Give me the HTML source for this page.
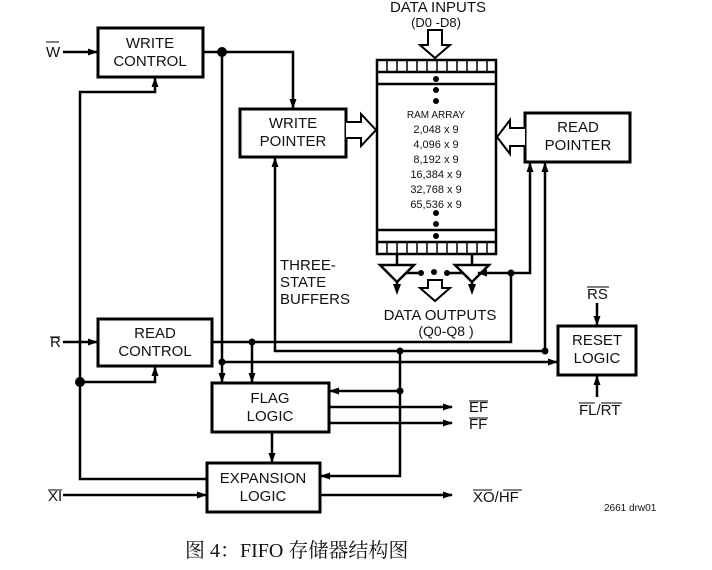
<!DOCTYPE html>
<html><head><meta charset="utf-8"><style>
body{margin:0;background:#fff;}
svg{display:block;}
text{font-family:"Liberation Sans",sans-serif;font-size:15px;fill:#111;}
</style></head><body>
<svg width="712" height="570" viewBox="0 0 712 570" xmlns="http://www.w3.org/2000/svg">
<defs>
<marker id="a" markerWidth="10" markerHeight="8" refX="9" refY="4" orient="auto" markerUnits="userSpaceOnUse"><path d="M0,0.5 L10,4 L0,7.5 Z" fill="#000"/></marker>
</defs>
<g fill="none" stroke="#000" stroke-width="3">
<rect x="98" y="28" width="105" height="49"/>
<rect x="240" y="109" width="106" height="48"/>
<rect x="525" y="113" width="105" height="49"/>
<rect x="98" y="319" width="114" height="47"/>
<rect x="212" y="383" width="117" height="49"/>
<rect x="207" y="463" width="113" height="49"/>
<rect x="558" y="326" width="78" height="49"/>
</g>
<g fill="none" stroke="#000" stroke-width="2.5">
<rect x="377" y="60" width="119" height="194"/>
<line x1="377" y1="72" x2="496" y2="72"/>
<line x1="377" y1="84" x2="496" y2="84"/>
<line x1="377" y1="230" x2="496" y2="230"/>
<line x1="377" y1="242" x2="496" y2="242"/>
</g>
<g stroke="#000" stroke-width="1.5">
<path d="M387 60v12M397 60v12M407 60v12M417 60v12M427 60v12M437 60v12M447 60v12M457 60v12M467 60v12M477 60v12M487 60v12"/>
<path d="M387 242v12M397 242v12M407 242v12M417 242v12M427 242v12M437 242v12M447 242v12M457 242v12M467 242v12M477 242v12M487 242v12"/>
</g>
<g fill="#000">
<circle cx="436" cy="79" r="3"/><circle cx="436" cy="90" r="3"/><circle cx="436" cy="101" r="3"/>
<circle cx="436" cy="213" r="3"/><circle cx="436" cy="224" r="3"/><circle cx="436" cy="236" r="3"/>
</g>
<g fill="#fff" stroke="#000" stroke-width="2">
<path d="M428 30 H442 V45 H450 L435 58 L420 45 H428 Z"/>
<path d="M346 122 H361 V114 L376 130 L361 146 V138 H346"/>
<path d="M525 128 H510 V120 L497 137 L510 154 V146 H525"/>
<path d="M428 280 H442 V288 H450 L435 301 L420 288 H428 Z"/>
</g>
<g fill="none" stroke="#000" stroke-width="2.5">
<line x1="397" y1="254" x2="397" y2="265"/>
<line x1="472" y1="254" x2="472" y2="265"/>
<path d="M380 265 H414 L397 282 Z"/>
<path d="M455 265 H489 L472 282 Z"/>
<line x1="397" y1="282" x2="397" y2="290"/>
<line x1="472" y1="282" x2="472" y2="290"/>
<line x1="406" y1="273" x2="421" y2="273"/>
<line x1="447" y1="273" x2="463" y2="273"/>
</g>
<g fill="#000">
<circle cx="421" cy="273" r="3"/><circle cx="434" cy="272" r="3"/><circle cx="447" cy="273" r="3"/>
<path d="M393 284 L397 295 L401 284 Z"/><path d="M468 284 L472 295 L476 284 Z"/>
</g>
<g fill="none" stroke="#000" stroke-width="2.5">
<line x1="63" y1="52" x2="97" y2="52" marker-end="url(#a)"/>
<line x1="63" y1="342" x2="97" y2="342" marker-end="url(#a)"/>
<line x1="63" y1="495" x2="206" y2="495" marker-end="url(#a)"/>
<path d="M203 52 H293 V108" marker-end="url(#a)"/>
<path d="M222 52 V382" marker-end="url(#a)"/>
<path d="M207 479 H80 V92 H155 V78" marker-end="url(#a)"/>
<path d="M80 382 H155 V367" marker-end="url(#a)"/>
<path d="M212 342 H511 V273 H478" marker-end="url(#a)"/>
<path d="M511 273 H530 V163" marker-end="url(#a)"/>
<path d="M252 342 V382" marker-end="url(#a)"/>
<path d="M545 351 H275 V158" marker-end="url(#a)"/>
<path d="M545 351 V163" marker-end="url(#a)"/>
<path d="M222 362 H557" marker-end="url(#a)"/>
<path d="M400 351 V391 H330" marker-end="url(#a)"/>
<path d="M400 391 V476 H321" marker-end="url(#a)"/>
<line x1="329" y1="407" x2="452" y2="407" marker-end="url(#a)"/>
<line x1="329" y1="423" x2="452" y2="423" marker-end="url(#a)"/>
<line x1="320" y1="495" x2="452" y2="495" marker-end="url(#a)"/>
<line x1="272" y1="432" x2="272" y2="462" marker-end="url(#a)"/>
<line x1="597" y1="303" x2="597" y2="325" marker-end="url(#a)"/>
<line x1="597" y1="397" x2="597" y2="376" marker-end="url(#a)"/>
</g>
<g fill="#000">
<circle cx="222" cy="52" r="5"/><circle cx="80" cy="382" r="5"/>
<circle cx="252" cy="342" r="3.5"/><circle cx="222" cy="362" r="3.5"/>
<circle cx="511" cy="273" r="3.5"/><circle cx="545" cy="351" r="3.5"/>
<circle cx="400" cy="351" r="3.5"/><circle cx="400" cy="391" r="3.5"/>
</g>
<g text-anchor="middle">
<text x="150" y="48">WRITE</text><text x="150" y="66">CONTROL</text>
<text x="293" y="128">WRITE</text><text x="293" y="146">POINTER</text>
<text x="578" y="132">READ</text><text x="578" y="150">POINTER</text>
<text x="155" y="338">READ</text><text x="155" y="356">CONTROL</text>
<text x="270" y="403">FLAG</text><text x="270" y="421">LOGIC</text>
<text x="263" y="483">EXPANSION</text><text x="263" y="501">LOGIC</text>
<text x="597" y="345">RESET</text><text x="597" y="363">LOGIC</text>
<text x="438" y="12">DATA INPUTS</text>
<text x="436" y="27" style="font-size:13px">(D0 -D8)</text>
<text x="440" y="320">DATA OUTPUTS</text>
<text x="446" y="336" style="font-size:14px">(Q0-Q8 )</text>
<text x="436" y="118" style="font-size:10px">RAM ARRAY</text>
<text x="436" y="133" style="font-size:11px">2,048 x 9</text>
<text x="436" y="148" style="font-size:11px">4,096 x 9</text>
<text x="436" y="163" style="font-size:11px">8,192 x 9</text>
<text x="436" y="178" style="font-size:11px">16,384 x 9</text>
<text x="436" y="193" style="font-size:11px">32,768 x 9</text>
<text x="436" y="208" style="font-size:11px">65,536 x 9</text>
</g>
<text x="280" y="270">THREE-</text><text x="280" y="287">STATE</text><text x="280" y="304">BUFFERS</text>
<text x="46" y="57">W</text><line x1="46" y1="42" x2="59" y2="42" stroke="#000" stroke-width="1"/>
<text x="50" y="347">R</text><line x1="50" y1="337" x2="60" y2="337" stroke="#000" stroke-width="1"/>
<text x="48" y="501">XI</text><line x1="48" y1="490" x2="62" y2="490" stroke="#000" stroke-width="1"/>
<text x="469" y="412">EF</text><line x1="469" y1="401" x2="488" y2="401" stroke="#000" stroke-width="1"/>
<text x="469" y="429">FF</text><line x1="469" y1="418" x2="488" y2="418" stroke="#000" stroke-width="1"/>
<text x="473" y="502">XO/HF</text><line x1="473" y1="490" x2="492" y2="490" stroke="#000" stroke-width="1"/><line x1="503" y1="490" x2="522" y2="490" stroke="#000" stroke-width="1"/>
<text x="587" y="299">RS</text><line x1="587" y1="287" x2="609" y2="287" stroke="#000" stroke-width="1"/>
<text x="579" y="415">FL/RT</text><line x1="579" y1="403" x2="595" y2="403" stroke="#000" stroke-width="1"/><line x1="601" y1="403" x2="622" y2="403" stroke="#000" stroke-width="1"/>
<text x="604" y="511" style="font-size:10px">2661 drw01</text>
<text x="185" y="557" style="font-family:'Liberation Serif','Noto Serif CJK SC',serif;font-size:20px">图 4：FIFO 存储器结构图</text>
</svg>
</body></html>
